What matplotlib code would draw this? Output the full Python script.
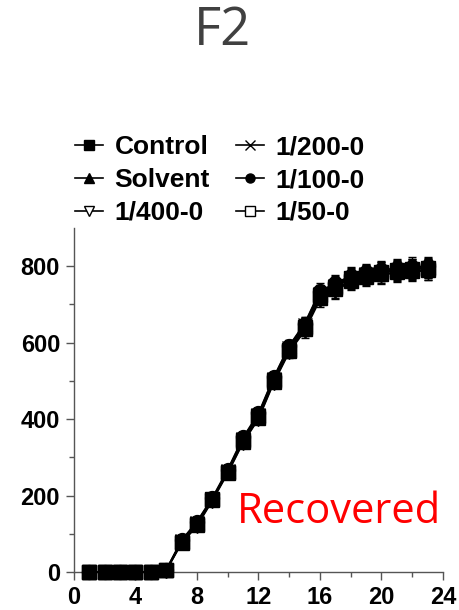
import matplotlib.pyplot as plt
import numpy as np

days = np.arange(1, 24)
control = [0, 0, 0, 0, 0, 5, 78, 125, 190, 262, 345, 408, 502, 582, 640, 725, 745, 768, 778, 784, 789, 792, 794]
solvent = [0, 0, 0, 0, 0, 4, 82, 130, 192, 265, 350, 412, 508, 590, 648, 732, 752, 772, 782, 788, 792, 795, 797]
d400 = [0, 0, 0, 0, 0, 3, 75, 120, 186, 258, 338, 400, 495, 575, 630, 712, 735, 760, 770, 778, 782, 786, 788]
d200 = [0, 0, 0, 0, 0, 5, 80, 128, 191, 264, 348, 410, 505, 585, 645, 728, 748, 770, 780, 786, 790, 793, 795]
d100 = [0, 0, 0, 0, 0, 6, 83, 132, 194, 268, 352, 415, 510, 592, 650, 735, 755, 775, 785, 790, 795, 798, 800]
d50 = [0, 0, 0, 0, 0, 4, 76, 122, 188, 260, 340, 402, 498, 578, 635, 718, 740, 762, 772, 780, 784, 788, 790]
err = [0, 0, 0, 0, 0, 2, 6, 8, 8, 10, 12, 12, 14, 16, 18, 20, 22, 22, 22, 24, 24, 25, 25]

series = [
    ("Control", control, "s", "black"),
    ("Solvent", solvent, "^", "black"),
    ("1/400-0", d400, "v", "white"),
    ("1/200-0", d200, "x", "black"),
    ("1/100-0", d100, "o", "black"),
    ("1/50-0", d50, "s", "white"),
]

fig = plt.figure(figsize=(4.59, 6.10), dpi=100)
ax = fig.add_axes([0.161, 0.0623, 0.804, 0.564])

handles = []
for name, vals, mk, fc in series:
    ax.errorbar(days, vals, yerr=err, color="black", lw=1.2, capsize=3,
                elinewidth=1, clip_on=False, zorder=2, fmt="none")
    ax.plot(days, vals, color="black", lw=1.2, marker=mk, ms=10,
            mfc="black", mec="black", clip_on=False, zorder=3)
    # legend handle shows the open/closed marker style
    lh, = ax.plot([], [], color="black", lw=1.2, marker=mk, ms=6.5,
                  mfc=fc, mec="black", label=name)
    handles.append(lh)

ax.set_xlim(0, 24)
ax.set_ylim(0, 900)
ax.set_xticks(np.arange(0, 25, 4))
ax.set_xticks(np.arange(2, 24, 4), minor=True)
ax.set_yticks(np.arange(0, 801, 200))
ax.set_yticks(np.arange(100, 900, 200), minor=True)
for s in ["top", "right"]:
    ax.spines[s].set_visible(False)
for s in ["left", "bottom"]:
    ax.spines[s].set_linewidth(1.0)
    ax.spines[s].set_color("#555555")
ax.tick_params(axis="both", which="major", length=6, width=1, color="#555555",
               labelsize=17, pad=4)
ax.tick_params(axis="both", which="minor", length=3.5, width=1, color="#555555")
for lab in ax.get_xticklabels() + ax.get_yticklabels():
    lab.set_fontfamily("Liberation Sans")
    lab.set_fontweight("bold")

leg = fig.legend(handles=handles, loc="upper left", bbox_to_anchor=(0.163, 0.778),
                 ncol=2, frameon=False, handlelength=1.05, handletextpad=0.45,
                 columnspacing=1.0, labelspacing=0.33, borderpad=0,
                 borderaxespad=0,
                 prop={"family": "Liberation Sans", "weight": "bold", "size": 19})

fig.text(0.484, 0.948, "F2", ha="center", va="center", fontsize=38,
         color="#404040", family="Open Sans")
fig.text(0.516, 0.16, "Recovered", ha="left", va="center", fontsize=30,
         color="red", family="Open Sans")

fig.savefig("out.png", dpi=100)
